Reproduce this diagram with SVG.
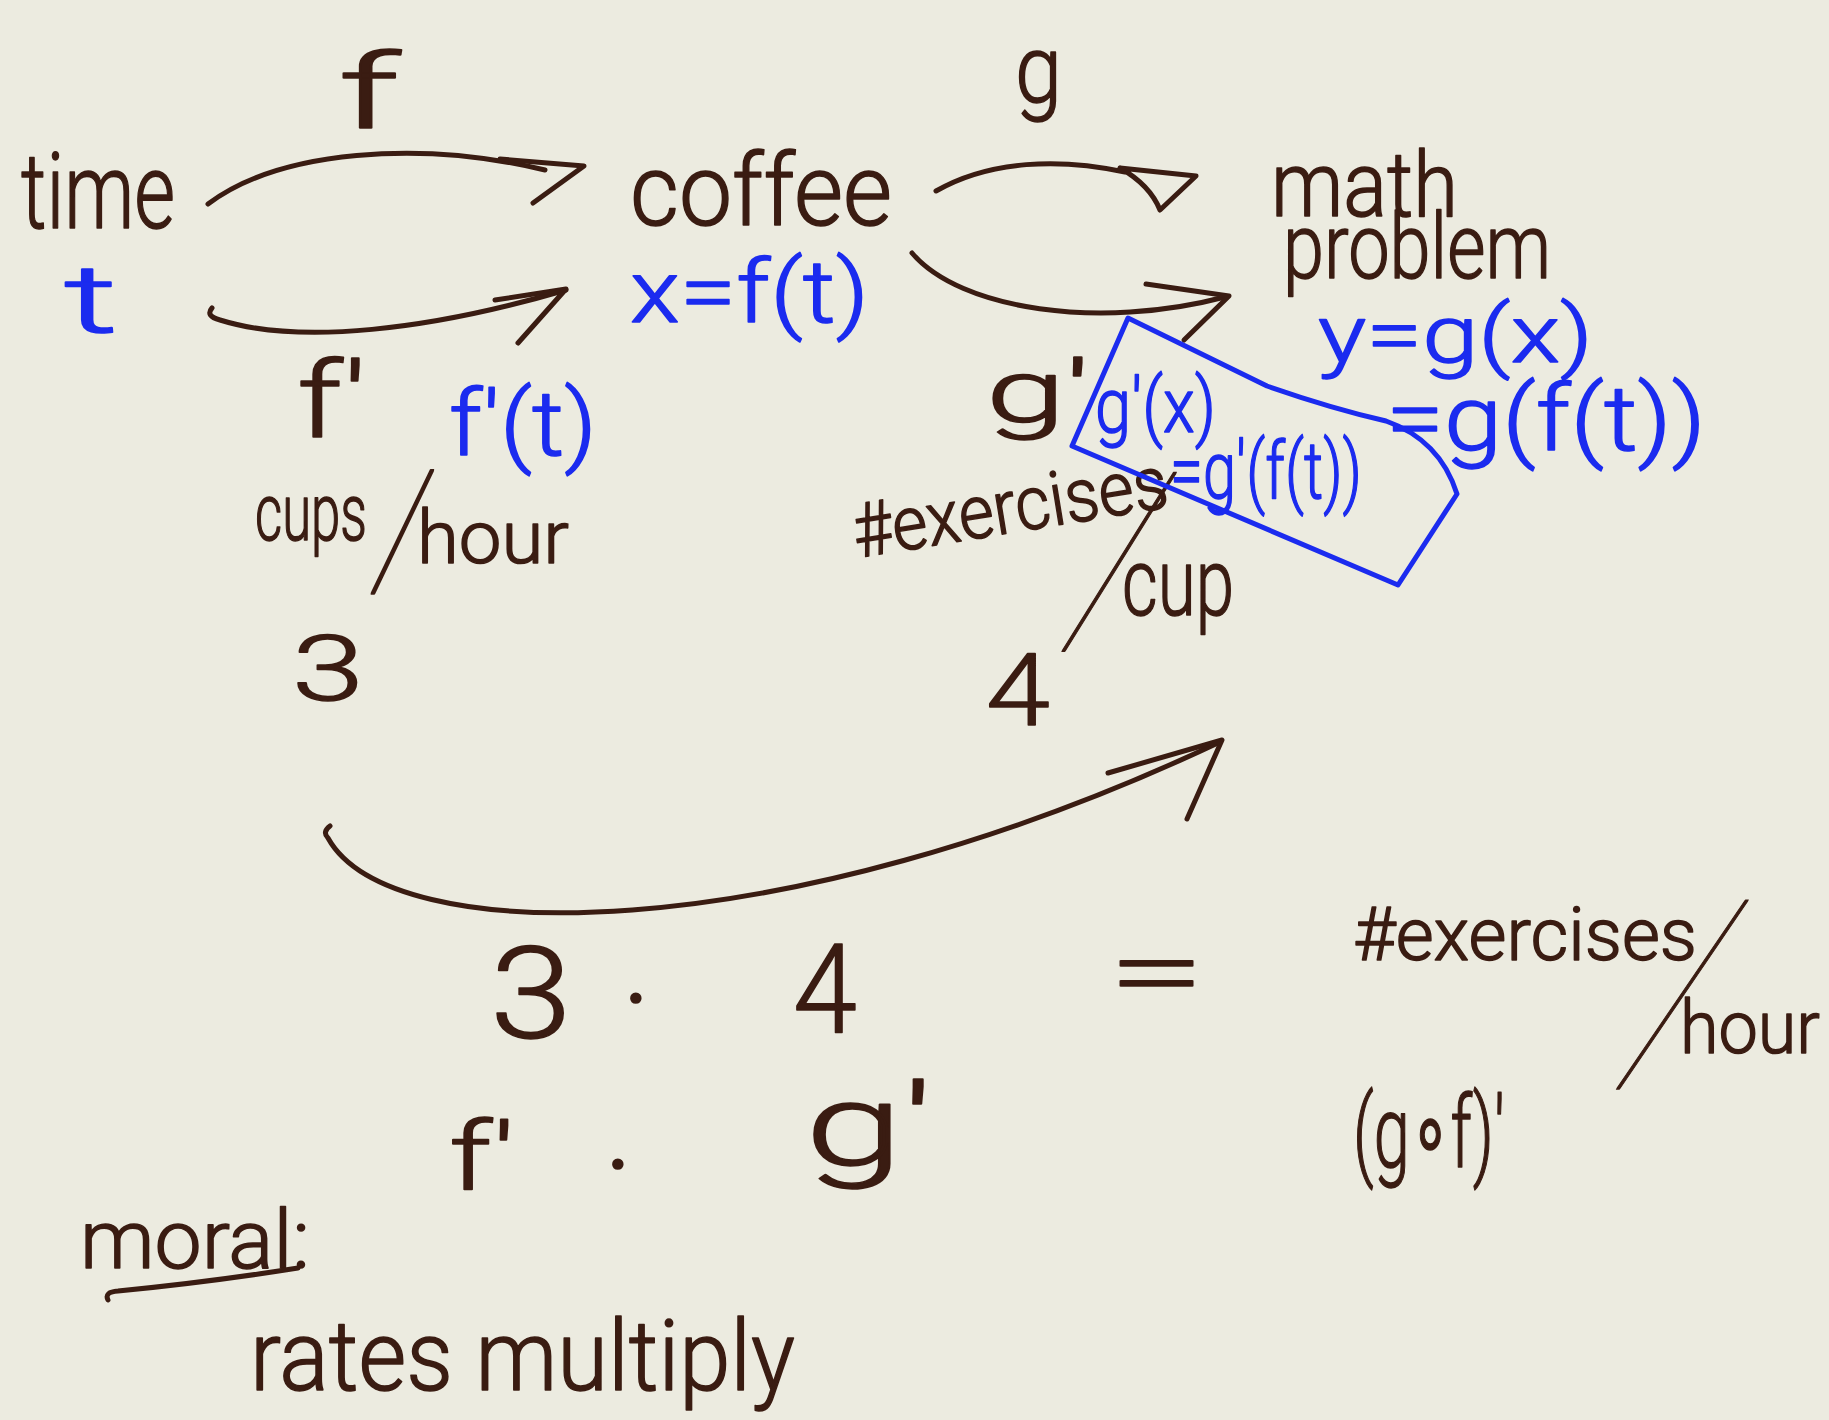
<svg xmlns="http://www.w3.org/2000/svg" width="1829" height="1420" viewBox="0 0 1829 1420">
<style>
text { font-family: "Roboto", "Liberation Sans", Arial, sans-serif; font-weight: 300; stroke-width: 1.5; stroke-linejoin: round; }
.k { fill: #3a1c12; stroke: #3a1c12; }
.b { fill: #1b2bef; stroke: #1b2bef; }
.sl { stroke-width: 3.5; }
.ln { fill: none; stroke: #3a1c12; stroke-width: 5; stroke-linecap: round; stroke-linejoin: round; }
.bl { fill: none; stroke: #1b2bef; stroke-width: 5; stroke-linecap: round; stroke-linejoin: round; }
</style>
<rect width="1829" height="1420" fill="#ecebe0"/>

<g id="connectors">
  <g id="arrow-f">
    <path class="ln" d="M 208,204 C 280,150 420,140 545,170"/>
    <path class="ln" d="M 500,159 L 584,166 L 533,203"/>
  </g>
  <g id="arrow-fprime">
    <path class="ln" d="M 212,308 Q 205,316 220,320 C 300,345 430,330 566,290"/>
    <path class="ln" d="M 495,300 L 566,289 L 518,343"/>
  </g>
  <g id="arrow-g">
    <path class="ln" d="M 936,191 C 990,160 1060,158 1125,172"/>
    <path class="ln" d="M 1120,168 L 1196,176 L 1160,210 Q 1150,185 1120,168"/>
  </g>
  <g id="arrow-gprime">
    <path class="ln" d="M 912,253 C 960,310 1100,330 1225,297"/>
    <path class="ln" d="M 1146,284 L 1229,296 L 1184,340"/>
  </g>
  <g id="arrow-composite">
    <path class="ln" d="M 330,826 Q 322,832 328,838 C 390,950 780,950 1220,742"/>
    <path class="ln" d="M 1108,773 L 1222,740 L 1187,819"/>
  </g>
</g>

<g id="node-time">
  <text class="k" x="21" y="228" font-size="105" textLength="154" lengthAdjust="spacingAndGlyphs">time</text>
  <text class="b" x="64" y="332" font-size="95" textLength="54" lengthAdjust="spacingAndGlyphs">t</text>
</g>

<g id="label-f">
  <text class="k" x="338" y="128" font-size="104" textLength="62" lengthAdjust="spacingAndGlyphs">f</text>
</g>

<g id="node-coffee">
  <text class="k" x="630" y="225" font-size="100" textLength="262" lengthAdjust="spacingAndGlyphs">coffee</text>
  <text class="b" x="630" y="322" font-size="88" textLength="239" lengthAdjust="spacingAndGlyphs">x=f(t)</text>
</g>

<g id="label-fprime">
  <text class="k" x="297" y="437" font-size="105" textLength="70" lengthAdjust="spacingAndGlyphs">f'</text>
  <text class="b" x="449" y="455" font-size="90" textLength="148" lengthAdjust="spacingAndGlyphs">f'(t)</text>
  <text class="k" x="255" y="540" font-size="80" textLength="112" lengthAdjust="spacingAndGlyphs">cups</text>
  <text class="k sl" font-size="60" vector-effect="non-scaling-stroke" transform="translate(374,583) skewX(-18.4) scale(1,2.62)">/</text>
  <text class="k" x="417" y="563" font-size="75" textLength="152" lengthAdjust="spacingAndGlyphs">hour</text>
  <text class="k" x="292" y="700" font-size="90" textLength="72" lengthAdjust="spacingAndGlyphs">3</text>
</g>

<g id="label-g">
  <text class="k" x="1015" y="102" font-size="95" textLength="47" lengthAdjust="spacingAndGlyphs">g</text>
</g>

<g id="node-math-problem">
  <text class="k" x="1271" y="216" font-size="90" textLength="187" lengthAdjust="spacingAndGlyphs">math</text>
  <text class="k" x="1283" y="278" font-size="90" textLength="268" lengthAdjust="spacingAndGlyphs">problem</text>
  <text class="b" x="1318" y="362" font-size="80" textLength="275" lengthAdjust="spacingAndGlyphs">y=g(x)</text>
  <text class="b" x="1386" y="450" font-size="90" textLength="320" lengthAdjust="spacingAndGlyphs">=g(f(t))</text>
</g>

<g id="label-gprime">
  <text class="k" x="986" y="422" font-size="88" textLength="104" lengthAdjust="spacingAndGlyphs">g'</text>
  <text class="k" x="857" y="558" font-size="75" textLength="318" lengthAdjust="spacingAndGlyphs" transform="rotate(-9.3 857 558)">#exercises</text>
  <text class="k sl" font-size="60" vector-effect="non-scaling-stroke" transform="translate(1069,636) skewX(-27.6) scale(1,3.8)">/</text>
  <text class="k" x="1122" y="615" font-size="95" textLength="112" lengthAdjust="spacingAndGlyphs">cup</text>
  <text class="k" x="986" y="725" font-size="100" textLength="64" lengthAdjust="spacingAndGlyphs">4</text>
</g>

<g id="blue-box">
  <path class="bl" d="M 1128,318 L 1267,386 Q 1330,408 1386,421 Q 1440,440 1457,494 L 1398,585 L 1072,446 Z"/>
  <text class="b" x="1095" y="432" font-size="76" textLength="121" lengthAdjust="spacingAndGlyphs">g'(x)</text>
  <text class="b" x="1170" y="498" font-size="80" textLength="192" lengthAdjust="spacingAndGlyphs">=g'(f(t))</text>
</g>

<g id="product">
  <text class="k" x="490" y="1038" font-size="128" textLength="82" lengthAdjust="spacingAndGlyphs">3</text>
  <text class="k" x="636" y="1041" font-size="120" font-weight="bold" text-anchor="middle">·</text>
  <text class="k" x="793" y="1032" font-size="125" textLength="64" lengthAdjust="spacingAndGlyphs">4</text>
  <text class="k" x="1108" y="1006" font-size="101" textLength="97" lengthAdjust="spacingAndGlyphs">=</text>
  <text class="k" x="1353" y="960" font-size="75" textLength="344" lengthAdjust="spacingAndGlyphs">#exercises</text>
  <text class="k sl" font-size="60" vector-effect="non-scaling-stroke" transform="translate(1625,1073) skewX(-30.4) scale(1,4.02)">/</text>
  <text class="k" x="1680" y="1053" font-size="75" textLength="140" lengthAdjust="spacingAndGlyphs">hour</text>
</g>

<g id="derivatives">
  <text class="k" x="449" y="1190" font-size="95" textLength="66" lengthAdjust="spacingAndGlyphs">f'</text>
  <text class="k" x="618" y="1207" font-size="120" font-weight="bold" text-anchor="middle">·</text>
  <text class="k" x="805" y="1165" font-size="115" textLength="128" lengthAdjust="spacingAndGlyphs">g'</text>
  <text class="k" x="1353" y="1167" font-size="100" textLength="152" lengthAdjust="spacingAndGlyphs">(g∘f)'</text>
</g>

<g id="moral">
  <text class="k" x="80" y="1268" font-size="82" textLength="230" lengthAdjust="spacingAndGlyphs">moral:</text>
  <path class="ln" d="M 108,1300 Q 104,1292 118,1291 Q 210,1282 298,1268"/>
  <text class="k" x="250" y="1390" font-size="98" textLength="545" lengthAdjust="spacingAndGlyphs">rates multiply</text>
</g>
</svg>
